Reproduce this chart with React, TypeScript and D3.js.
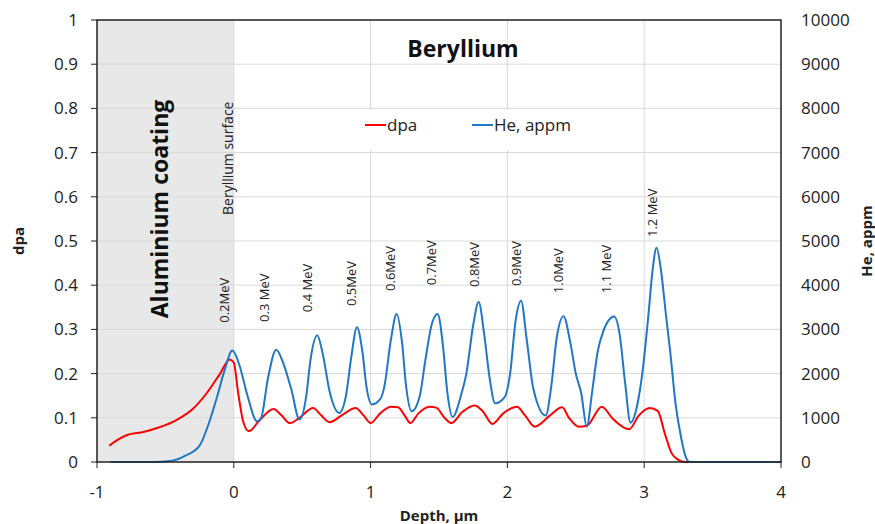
import React, { useEffect, useRef } from 'react';
import * as d3 from 'd3';

// dpa profile: [depth µm, dpa]
const dpaPoints: [number, number][] = [
  [-0.91, 0.037], [-0.85, 0.05], [-0.78, 0.061], [-0.66, 0.068], [-0.55, 0.078], [-0.42, 0.095],
  [-0.3, 0.12], [-0.2, 0.155], [-0.1, 0.2], [-0.03, 0.232], [0, 0.225], [0.03, 0.16], [0.07, 0.09],
  [0.11, 0.07], [0.19, 0.095], [0.29, 0.12], [0.35, 0.105], [0.41, 0.088], [0.48, 0.1], [0.58, 0.122],
  [0.64, 0.105], [0.7, 0.09], [0.8, 0.108], [0.89, 0.122], [0.95, 0.105], [1.0, 0.088], [1.07, 0.11],
  [1.15, 0.125], [1.2, 0.124], [1.25, 0.105], [1.29, 0.088], [1.35, 0.11], [1.43, 0.125], [1.48, 0.123],
  [1.54, 0.1], [1.59, 0.088], [1.67, 0.113], [1.76, 0.128], [1.82, 0.115], [1.89, 0.086], [1.97, 0.11],
  [2.07, 0.125], [2.13, 0.105], [2.2, 0.08], [2.31, 0.105], [2.4, 0.124], [2.45, 0.1], [2.52, 0.08],
  [2.58, 0.082], [2.69, 0.125], [2.77, 0.098], [2.84, 0.08], [2.89, 0.074], [2.96, 0.105], [3.04, 0.122],
  [3.1, 0.115], [3.15, 0.065], [3.2, 0.02], [3.25, 0.005], [3.3, 0], [3.4, 0],
];

// He profile: [depth µm, appm]
const hePoints: [number, number][] = [
  [-0.9, 0], [-0.6, 0], [-0.45, 30], [-0.35, 150], [-0.25, 370], [-0.18, 900], [-0.12, 1500],
  [-0.07, 2050], [-0.01, 2520], [0.04, 2200], [0.1, 1500], [0.17, 920], [0.2, 1000], [0.25, 1900],
  [0.31, 2540], [0.36, 2250], [0.42, 1650], [0.48, 960], [0.53, 1500], [0.56, 2300], [0.61, 2870],
  [0.65, 2450], [0.7, 1600], [0.77, 1110], [0.82, 1500], [0.86, 2400], [0.9, 3050], [0.94, 2500],
  [0.97, 1700], [1.01, 1300], [1.07, 1420], [1.1, 1700], [1.15, 2800], [1.19, 3350], [1.23, 2700],
  [1.26, 1700], [1.3, 1150], [1.36, 1500], [1.4, 2300], [1.45, 3150], [1.49, 3350], [1.53, 2600],
  [1.56, 1600], [1.6, 1020], [1.66, 1500], [1.7, 2000], [1.75, 3100], [1.79, 3620], [1.83, 2900],
  [1.87, 1900], [1.91, 1330], [1.98, 1470], [2.02, 2000], [2.06, 3200], [2.1, 3650], [2.14, 2800],
  [2.19, 1650], [2.28, 1050], [2.32, 1700], [2.36, 2800], [2.41, 3300], [2.46, 2700], [2.5, 2000],
  [2.54, 1550], [2.58, 800], [2.62, 1600], [2.66, 2500], [2.7, 2950], [2.78, 3290], [2.82, 2900],
  [2.86, 1800], [2.9, 890], [2.95, 1300], [2.99, 2100], [3.03, 3300], [3.06, 4300], [3.09, 4850],
  [3.12, 4400], [3.16, 3300], [3.19, 2500], [3.23, 1300], [3.27, 550], [3.3, 150], [3.33, 0], [4, 0],
];

// energy labels: text, depth, dpa level where the rotated text starts
const energyLabels = ['0.2MeV', '0.3 MeV', '0.4 MeV', '0.5MeV', '0.6MeV', '0.7MeV', '0.8MeV', '0.9MeV', '1.0MeV', '1.1 MeV', '1.2 MeV'];
const energyDepth = [-0.037, 0.256, 0.57, 0.89, 1.18, 1.48, 1.79, 2.1, 2.41, 2.76, 3.09];
const energyLevel = [0.315, 0.317, 0.339, 0.353, 0.387, 0.4, 0.396, 0.398, 0.382, 0.382, 0.509];

const xTicks = [-1, 0, 1, 2, 3, 4];
const dpaTicks = [0, 0.1, 0.2, 0.3, 0.4, 0.5, 0.6, 0.7, 0.8, 0.9, 1];
const heTicks = [0, 1000, 2000, 3000, 4000, 5000, 6000, 7000, 8000, 9000, 10000];

const W = 875, H = 524;
const m = { left: 97, top: 20, right: 94, bottom: 62 };
const FONT = 'Open Sans, sans-serif';
const RED = '#ff0000';
const BLUE = '#1f77c6';

const App: React.FC = () => {
  const svgRef = useRef<SVGSVGElement>(null);

  useEffect(() => {
    if (!svgRef.current) return;
    const svg = d3.select(svgRef.current);
    svg.selectAll('*').remove();

    const x = d3.scaleLinear().domain([-1, 4]).range([m.left, W - m.right]);
    const y = d3.scaleLinear().domain([0, 1]).range([H - m.bottom, m.top]);
    const y2 = d3.scaleLinear().domain([0, 10000]).range([H - m.bottom, m.top]);

    // aluminium coating zone
    svg.append('rect')
      .attr('x', x(-1)).attr('y', y(1))
      .attr('width', x(0) - x(-1)).attr('height', y(0) - y(1))
      .attr('fill', '#e8e8e8');

    // grid
    svg.append('g').selectAll('line.h').data(dpaTicks.slice(1, -1)).enter().append('line')
      .attr('x1', x(-1)).attr('x2', x(4))
      .attr('y1', d => y(d)).attr('y2', d => y(d))
      .attr('stroke', '#d9d9d9').attr('stroke-width', 1);
    svg.append('g').selectAll('line.v').data(xTicks.slice(1, -1)).enter().append('line')
      .attr('x1', d => x(d)).attr('x2', d => x(d))
      .attr('y1', y(0)).attr('y2', y(1))
      .attr('stroke', '#d9d9d9').attr('stroke-width', 1);

    // legend box
    const lg = svg.append('g');
    lg.append('rect').attr('x', 311).attr('y', 110).attr('width', 313).attr('height', 40).attr('fill', '#fff');
    const items = [{ t: 'dpa', c: RED, x0: 365 }, { t: 'He, appm', c: BLUE, x0: 472 }];
    items.forEach(it => {
      lg.append('line').attr('x1', it.x0).attr('x2', it.x0 + 21).attr('y1', 125).attr('y2', 125)
        .attr('stroke', it.c).attr('stroke-width', 2);
      lg.append('text').attr('x', it.x0 + 22).attr('y', 131).text(it.t)
        .attr('font-family', FONT).attr('font-size', 17).attr('fill', '#222');
    });

    // curves
    const dpaLine = d3.line<[number, number]>().x(d => x(d[0])).y(d => y(d[1])).curve(d3.curveMonotoneX);
    const heLine = d3.line<[number, number]>().x(d => x(d[0])).y(d => y2(d[1])).curve(d3.curveMonotoneX);
    svg.append('path').attr('d', dpaLine(dpaPoints)).attr('fill', 'none').attr('stroke', RED).attr('stroke-width', 2);
    svg.append('path').attr('d', heLine(hePoints)).attr('fill', 'none').attr('stroke', BLUE).attr('stroke-width', 2);

    // frame
    svg.append('rect').attr('x', x(-1)).attr('y', y(1))
      .attr('width', x(4) - x(-1)).attr('height', y(0) - y(1))
      .attr('fill', 'none').attr('stroke', '#222').attr('stroke-width', 1.5);

    // left axis
    const gl = svg.append('g');
    dpaTicks.forEach(t => {
      gl.append('line').attr('x1', m.left - 6).attr('x2', m.left).attr('y1', y(t)).attr('y2', y(t)).attr('stroke', '#222');
      gl.append('text').attr('x', 78).attr('y', y(t) + 6).attr('text-anchor', 'end').text(String(t))
        .attr('font-family', FONT).attr('font-size', 17).attr('fill', '#222');
    });
    // right axis
    heTicks.forEach(t => {
      gl.append('text').attr('x', 801).attr('y', y2(t) + 6).text(String(t))
        .attr('font-family', FONT).attr('font-size', 17).attr('fill', '#222');
    });
    // bottom axis
    xTicks.forEach(t => {
      gl.append('line').attr('x1', x(t)).attr('x2', x(t)).attr('y1', y(0)).attr('y2', y(0) + 6).attr('stroke', '#222');
      gl.append('text').attr('x', x(t)).attr('y', 498).attr('text-anchor', 'middle').text(String(t))
        .attr('font-family', FONT).attr('font-size', 17).attr('fill', '#222');
    });

    // axis titles
    svg.append('text').attr('x', (x(-1) + x(4)) / 2).attr('y', 521).attr('text-anchor', 'middle')
      .text('Depth, µm').attr('font-family', FONT).attr('font-size', 15).attr('font-weight', 'bold').attr('fill', '#222');
    svg.append('text').attr('transform', `translate(24,${(y(0) + y(1)) / 2}) rotate(-90)`).attr('text-anchor', 'middle')
      .text('dpa').attr('font-family', FONT).attr('font-size', 15).attr('font-weight', 'bold').attr('fill', '#222');
    svg.append('text').attr('transform', `translate(872,${(y(0) + y(1)) / 2}) rotate(-90)`).attr('text-anchor', 'middle')
      .text('He, appm').attr('font-family', FONT).attr('font-size', 15).attr('font-weight', 'bold').attr('fill', '#222');

    // annotations
    svg.append('text').attr('x', 463).attr('y', 57).attr('text-anchor', 'middle')
      .text('Beryllium').attr('font-family', FONT).attr('font-size', 23).attr('font-weight', 'bold').attr('fill', '#111');
    svg.append('text').attr('transform', `translate(168,209) rotate(-90)`).attr('text-anchor', 'middle')
      .text('Aluminium coating').attr('font-family', FONT).attr('font-size', 23).attr('font-weight', 'bold').attr('fill', '#111');
    svg.append('text').attr('transform', `translate(233,215) rotate(-90)`)
      .text('Beryllium surface').attr('font-family', FONT).attr('font-size', 14).attr('fill', '#222');

    svg.append('g').selectAll('text').data(energyLabels).enter().append('text')
      .attr('transform', (d, i) => `translate(${x(energyDepth[i])},${y(energyLevel[i])}) rotate(-90)`)
      .text(d => d).attr('font-family', FONT).attr('font-size', 13).attr('fill', '#222');
  }, []);

  return (
    <svg ref={svgRef} width={W} height={H}
      style={{ position: 'absolute', left: 0, top: 0, background: '#fff' }} />
  );
};

export default App;
